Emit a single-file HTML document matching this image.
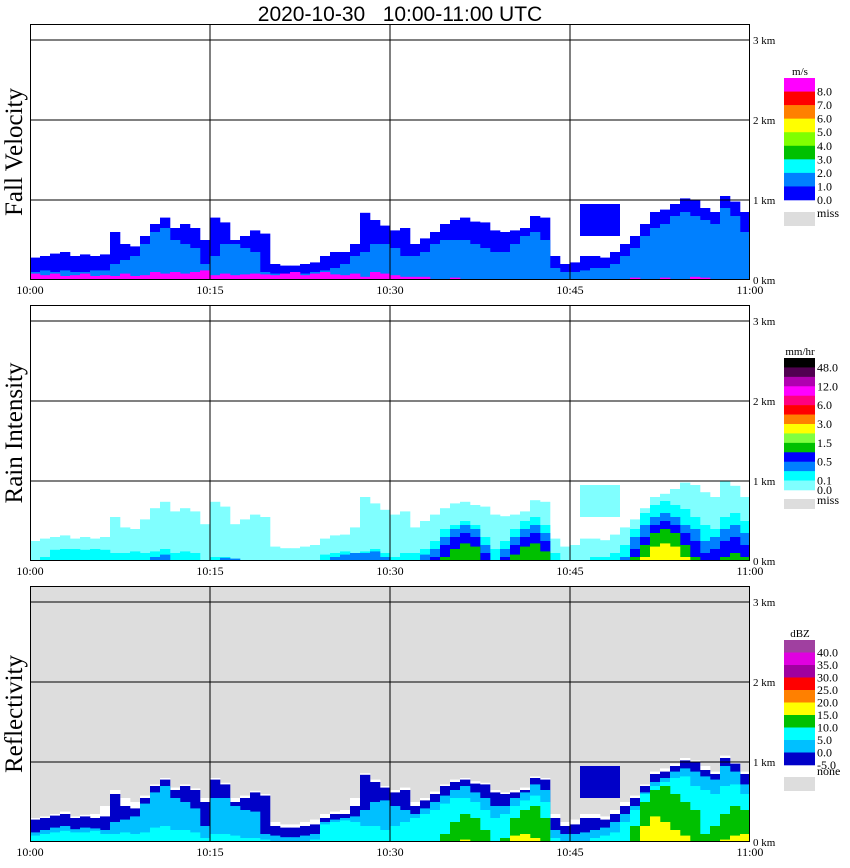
<!DOCTYPE html>
<html><head><meta charset="utf-8"><style>
html,body{margin:0;padding:0;background:#fff;}
svg{display:block;font-family:"Liberation Serif",serif;}
</style></head><body>
<svg id="chart" width="850" height="868" viewBox="0 0 850 868" xmlns="http://www.w3.org/2000/svg">
<defs><clipPath id="plotclip"><rect x="30" y="0" width="720" height="868"/></clipPath></defs>
<text x="400" y="21" text-anchor="middle" font-family="Liberation Sans,sans-serif" font-size="21" style="white-space:pre">2020-10-30   10:00-11:00 UTC</text>
<g id="panels"></g>
</svg>
<script>
// time bins of 50 s (72 bins over 10:00-11:00)
const echoTops=[0.28,0.30,0.33,0.35,0.30,0.32,0.30,0.32,0.60,0.45,0.42,0.55,0.70,0.78,0.65,0.70,0.65,0.50,0.78,0.72,0.50,0.55,0.62,0.58,0.20,0.18,0.18,0.20,0.22,0.30,0.35,0.35,0.45,0.84,0.75,0.68,0.62,0.65,0.45,0.52,0.60,0.70,0.75,0.78,0.73,0.72,0.62,0.60,0.62,0.65,0.80,0.78,0.30,0.20,0.22,0.30,0.30,0.28,0.35,0.45,0.55,0.70,0.85,0.88,0.95,1.02,1.00,0.90,0.85,1.05,0.98,0.85];
const fvMid=[0.10,0.12,0.10,0.12,0.10,0.10,0.12,0.12,0.20,0.25,0.30,0.45,0.60,0.65,0.50,0.45,0.40,0.20,0.30,0.45,0.45,0.40,0.35,0.10,0.08,0.06,0.06,0.08,0.10,0.12,0.15,0.20,0.30,0.35,0.45,0.45,0.40,0.30,0.30,0.35,0.45,0.50,0.50,0.50,0.45,0.40,0.35,0.35,0.45,0.55,0.60,0.50,0.15,0.10,0.10,0.12,0.15,0.15,0.20,0.30,0.40,0.55,0.65,0.70,0.80,0.85,0.80,0.75,0.70,0.90,0.80,0.60];
const fvHigh=[0.08,0.06,0.08,0.05,0.06,0.08,0.05,0.06,0.05,0.08,0.05,0.06,0.10,0.08,0.10,0.08,0.10,0.12,0.06,0.08,0.06,0.07,0.08,0.07,0.06,0.08,0.10,0.06,0.08,0.10,0.07,0.06,0.08,0.04,0.10,0.08,0.06,0.04,0.04,0.04,0,0,0.03,0,0,0,0,0,0,0,0,0,0,0,0,0,0,0,0,0,0.03,0,0,0.03,0,0,0.04,0.03,0,0,0,0];
const riOuter=[0.25,0.28,0.30,0.32,0.28,0.30,0.28,0.30,0.55,0.42,0.40,0.52,0.66,0.74,0.62,0.66,0.62,0.46,0.74,0.68,0.46,0.52,0.58,0.55,0.18,0.16,0.16,0.18,0.20,0.28,0.32,0.33,0.42,0.80,0.72,0.64,0.58,0.62,0.42,0.50,0.58,0.66,0.72,0.74,0.70,0.68,0.58,0.56,0.58,0.62,0.76,0.74,0.28,0.18,0.20,0.28,0.28,0.26,0.33,0.42,0.52,0.66,0.80,0.84,0.90,0.98,0.95,0.86,0.80,1.00,0.94,0.80];
const riLight=[0,0.05,0.14,0.15,0.15,0.14,0.15,0.14,0.10,0.10,0.12,0.10,0.12,0.15,0.10,0.12,0.10,0,0.05,0.05,0,0,0,0,0,0,0,0,0,0.08,0.10,0.12,0.10,0.12,0.15,0.10,0.05,0.10,0.10,0.15,0.25,0.40,0.45,0.50,0.45,0.30,0.15,0.25,0.40,0.50,0.55,0.45,0.10,0,0,0,0.05,0.05,0.10,0.20,0.40,0.60,0.70,0.75,0.70,0.65,0.55,0.45,0.40,0.55,0.60,0.50];
const riMid=[0,0,0,0,0,0,0,0,0,0,0,0,0.05,0.08,0,0,0,0,0,0.04,0.03,0,0,0,0,0,0,0,0,0,0.05,0.08,0.10,0.10,0.12,0.05,0,0,0,0.08,0.15,0.30,0.40,0.45,0.40,0.20,0,0.15,0.30,0.40,0.45,0.35,0,0,0,0,0,0,0,0.05,0.30,0.45,0.55,0.60,0.55,0.45,0.40,0.25,0.30,0.40,0.45,0.35];
const riDeep=[0,0,0,0,0,0,0,0,0,0,0,0,0,0,0,0,0,0,0,0,0,0,0,0,0,0,0,0,0,0,0,0,0,0,0,0,0,0,0,0,0.05,0.20,0.30,0.35,0.30,0.10,0,0.05,0.20,0.30,0.35,0.25,0,0,0,0,0,0,0,0,0.15,0.30,0.45,0.50,0.45,0.35,0.25,0.10,0.15,0.25,0.30,0.20];
const riCore=[0,0,0,0,0,0,0,0,0,0,0,0,0,0,0,0,0,0,0,0,0,0,0,0,0,0,0,0,0,0,0,0,0,0,0,0,0,0,0,0,0,0.05,0.15,0.22,0.18,0,0,0,0.08,0.18,0.22,0.12,0,0,0,0,0,0,0,0,0.05,0.20,0.35,0.40,0.35,0.20,0.05,0,0,0.05,0.10,0.05];
const riPeak=[0,0,0,0,0,0,0,0,0,0,0,0,0,0,0,0,0,0,0,0,0,0,0,0,0,0,0,0,0,0,0,0,0,0,0,0,0,0,0,0,0,0,0,0,0,0,0,0,0,0,0,0,0,0,0,0,0,0,0,0,0,0.05,0.18,0.22,0.18,0.05,0,0,0,0,0,0];
const zeWhite=[0.30,0.32,0.35,0.38,0.32,0.34,0.35,0.45,0.65,0.55,0.50,0.58,0.72,0.80,0.68,0.72,0.67,0.55,0.80,0.74,0.55,0.58,0.64,0.60,0.25,0.22,0.22,0.25,0.28,0.35,0.38,0.40,0.55,0.86,0.78,0.70,0.65,0.68,0.50,0.55,0.63,0.72,0.78,0.80,0.76,0.74,0.65,0.62,0.65,0.68,0.82,0.80,0.35,0.25,0.28,0.35,0.35,0.32,0.40,0.50,0.58,0.72,0.88,0.92,0.98,1.05,1.02,0.95,0.88,1.08,1.00,0.88];
const zeDark=echoTops;
const zeBlue=[0.12,0.15,0.18,0.20,0.16,0.18,0.17,0.15,0.25,0.28,0.32,0.48,0.62,0.70,0.55,0.50,0.42,0.20,0.55,0.55,0.45,0.40,0.38,0.10,0.08,0.06,0.06,0.08,0.10,0.25,0.28,0.30,0.32,0.40,0.50,0.52,0.45,0.40,0.35,0.42,0.50,0.58,0.65,0.70,0.62,0.55,0.45,0.45,0.55,0.62,0.72,0.65,0.15,0.10,0.10,0.12,0.15,0.18,0.25,0.35,0.45,0.62,0.75,0.80,0.88,0.92,0.88,0.82,0.78,0.95,0.88,0.72];
const zeCyan=[0.08,0.10,0.12,0.14,0.12,0.12,0.14,0.10,0.10,0.12,0.10,0.12,0.18,0.20,0.15,0.15,0.12,0.05,0.10,0.10,0.08,0.05,0.05,0.03,0,0,0,0,0.03,0.22,0.25,0.27,0.25,0.20,0.20,0.15,0.20,0.25,0.30,0.35,0.40,0.48,0.55,0.55,0.50,0.40,0.30,0.35,0.45,0.52,0.58,0.50,0.05,0,0,0,0.05,0.08,0.12,0.25,0.40,0.60,0.70,0.75,0.80,0.82,0.70,0.65,0.60,0.70,0.72,0.60];
const zeGreen=[0,0,0,0,0,0,0,0,0,0,0,0,0,0,0,0,0,0,0,0,0,0,0,0,0,0,0,0,0,0,0,0,0,0,0,0,0,0,0,0,0,0.10,0.25,0.35,0.30,0.15,0,0.05,0.30,0.40,0.45,0.30,0,0,0,0,0,0,0,0,0.20,0.50,0.65,0.70,0.60,0.50,0.40,0.10,0.20,0.35,0.45,0.40];
const zeYellow=[0,0,0,0,0,0,0,0,0,0,0,0,0,0,0,0,0,0,0,0,0,0,0,0,0,0,0,0,0,0,0,0,0,0,0,0,0,0,0,0,0,0,0,0.03,0,0,0,0,0.08,0.10,0.05,0,0,0,0,0,0,0,0,0,0,0.20,0.32,0.25,0.15,0.08,0,0,0,0.03,0.08,0.10];
// floating echo blob: [startBin, endBin, baseKm, topKm]
const floatBlobs=[[55,58,0.55,0.95]];
const timeTicks=["10:00","10:15","10:30","10:45","11:00"];
const kmTicks=["0 km","1 km","2 km","3 km"];
const fvLabels=["8.0","7.0","6.0","5.0","4.0","3.0","2.0","1.0","0.0"];
const riLabels=["48.0","12.0","6.0","3.0","1.5","0.5","0.1","0.0"];
const zeLabels=["40.0","35.0","30.0","25.0","20.0","15.0","10.0","5.0","0.0","-5.0"];

const NS="http://www.w3.org/2000/svg";
const root=document.getElementById('panels');
const X0=30,W=720,BIN=50/3600;
function xScale(frac){return X0+frac*W;}
function mk(tag,attrs,parent){const e=document.createElementNS(NS,tag);for(const k in attrs)e.setAttribute(k,attrs[k]);(parent||root).appendChild(e);return e;}

const panels=[
 {name:'fall-velocity',title:'Fall Velocity',top:24,bg:'#fff',
  layers:[[echoTops,'#0000ff'],[fvMid,'#0080ff'],[fvHigh,'#ff00ff']],blobColor:'#0000ff',
  cb:{y:78,h:122,colors:['#ff00ff','#ff0000','#ff8000','#ffff00','#80ff00','#00c000','#00ffff','#0080ff','#0000ff'],unit:'m/s',labels:fvLabels,miss:'miss'}},
 {name:'rain-intensity',title:'Rain Intensity',top:305,bg:'#fff',
  layers:[[riOuter,'#80ffff'],[riLight,'#00ffff'],[riMid,'#0080ff'],[riDeep,'#0000ff'],[riCore,'#00c000'],[riPeak,'#ffff00']],blobColor:'#80ffff',
  cb:{y:358,h:132,colors:['#000000','#500050','#b000b0','#ff00ff','#ff0080','#ff0000','#ff8000','#ffff00','#80ff40','#00c000','#0000ff','#0080ff','#00ffff','#80ffff'],unit:'mm/hr',labels:riLabels,miss:'miss'}},
 {name:'reflectivity',title:'Reflectivity',top:586,bg:'#dddddd',
  layers:[[zeWhite,'#ffffff'],[zeDark,'#0000c8'],[zeBlue,'#00c0ff'],[zeCyan,'#00ffff'],[zeGreen,'#00c000'],[zeYellow,'#ffff00']],blobColor:'#0000c8',
  cb:{y:640,h:125,colors:['#a040a0','#e000e0','#a000a0','#ff0000','#ff8000','#ffff00','#00c000','#00ffff','#00c0ff','#0000c8'],unit:'dBZ',labels:zeLabels,miss:'none'}}
];

panels.forEach((p)=>{
  const g=mk('g',{});
  
  
  const bottom=p.top+256;
  const yScale=km=>bottom-km*80;
  mk('rect',{x:X0,y:p.top,width:W,height:256,fill:p.bg},g);
  const dg=mk('g',{'clip-path':'url(#plotclip)'},g);
  
  
  p.layers.forEach(([arr,color])=>{
    arr.forEach((v,i)=>{
      if(v<=0)return;
      const x1=xScale(i*BIN),x2=xScale((i+1)*BIN);
      const r=mk('rect',{x:x1,y:yScale(v),width:x2-x1+0.3,height:bottom-yScale(v),fill:color},dg);
      
      
    });
  });
  floatBlobs.forEach(b=>{
    const x1=xScale(b[0]*BIN),x2=xScale((b[1]+1)*BIN);
    const r=mk('rect',{x:x1,y:yScale(b[3]),width:x2-x1,height:yScale(b[2])-yScale(b[3]),fill:p.blobColor},dg);
    
    
  });
  // grid
  [1,2,3].forEach(k=>{mk('line',{x1:X0,x2:X0+W,y1:yScale(k),y2:yScale(k),stroke:'#000','stroke-width':1},g);});
  [1,2,3].forEach(k=>{mk('line',{x1:xScale(k/4),x2:xScale(k/4),y1:p.top,y2:bottom,stroke:'#000','stroke-width':1},g);});
  mk('rect',{x:X0+0.5,y:p.top+0.5,width:W-1,height:255,fill:'none',stroke:'#000','stroke-width':1},g);
  timeTicks.forEach((t,i)=>{
    const tx=mk('text',{x:xScale(i/4),y:bottom+14,'text-anchor':'middle','font-size':12},g);
    tx.textContent=t;
    
    
  });
  kmTicks.forEach((t,k)=>{
    const tx=mk('text',{x:753,y:yScale(k)+4,'font-size':11},g);
    tx.textContent=t;
    
    
  });
  const yt=mk('text',{x:0,y:0,'font-size':25,'text-anchor':'middle',transform:`translate(22,${p.top+128}) rotate(-90)`},g);
  yt.textContent=p.title;
  
  
  const cb=p.cb,n=cb.colors.length,h=cb.h/n;
  const u=mk('text',{x:800,y:cb.y-3,'font-size':11,'text-anchor':'middle'},g);
  u.textContent=cb.unit;
  
  
  cb.colors.forEach((c,i)=>{
    const r=mk('rect',{x:784,y:cb.y+i*h,width:31,height:h+0.3,fill:c},g);
    
    
  });
  cb.labels.forEach((l,i)=>{
    let ly;
    if(p.name==='rain-intensity'){const pos=[1,3,5,7,9,11,13,14];ly=cb.y+pos[i]*h;}
    else{ly=cb.y+(i+1)*h;}
    const tx=mk('text',{x:817,y:ly+4,'font-size':12},g);
    tx.textContent=l;
    
    
  });
  const mTop=cb.y+n*h+(p.name==='rain-intensity'?9:12);
  const mr=mk('rect',{x:784,y:mTop,width:31,height:p.name==='rain-intensity'?10:14,fill:'#dddddd'},g);
  
  
  const mt=mk('text',{x:817,y:mTop+(p.name==='reflectivity'?-2:5),'font-size':12},g);
  mt.textContent=cb.miss;
  
  
});
</script>
</body></html>
